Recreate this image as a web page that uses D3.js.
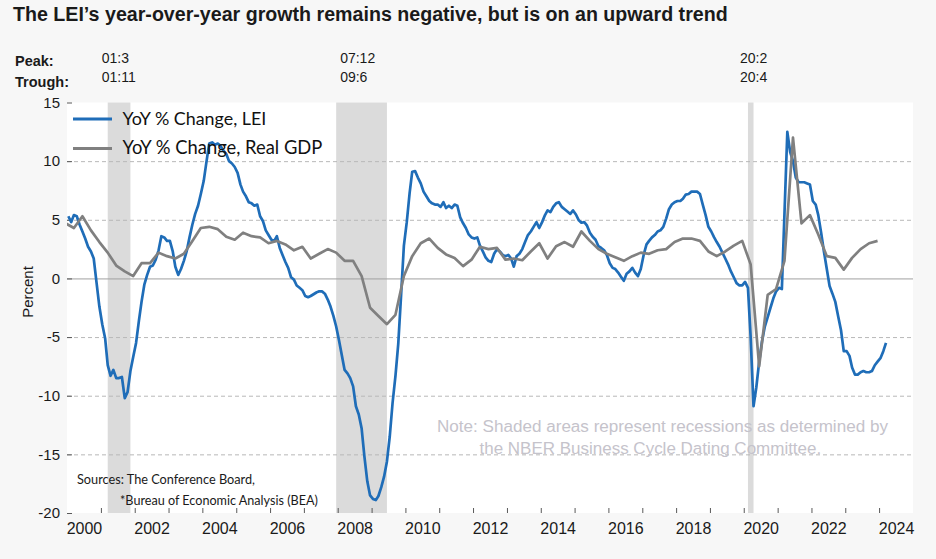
<!DOCTYPE html>
<html><head><meta charset="utf-8">
<script src="https://cdn.jsdelivr.net/npm/d3@7"></script>
<style>
html,body{margin:0;padding:0;background:#f7f7f7;}
svg{display:block;}
</style></head><body>
<svg id="chart" width="936" height="559"></svg>
<script>
// ---------------- DATA ----------------
const titleText = "The LEI\u2019s year-over-year growth remains negative, but is on an upward trend";
const seriesNames = ["YoY % Change, LEI", "YoY % Change, Real GDP"];

// LEI YoY % change, monthly, starting Jan 2000
const leiStartYear = 2000;
const leiValues = [
  5.3, 4.8, 5.4, 5.3, 4.6, 4.0, 3.4, 2.7, 2.3, 1.7, -0.4, -2.4,          // 2000
  -3.9, -5.1, -7.4, -8.3, -7.8, -8.5, -8.5, -8.4, -10.2, -9.7, -7.9, -6.7, // 2001
  -5.5, -3.6, -2.0, -0.5, 0.3, 1.0, 1.1, 1.6, 2.4, 3.6, 3.5, 3.2,        // 2002
  3.2, 2.3, 1.0, 0.3, 0.8, 1.5, 2.3, 3.5, 4.6, 5.5, 6.2, 7.2,            // 2003
  8.3, 10.0, 11.5, 11.6, 11.4, 11.5, 11.3, 10.9, 10.6, 10.0, 9.8, 9.5,   // 2004
  9.0, 8.0, 7.4, 7.0, 6.5, 6.4, 6.2, 6.3, 5.3, 4.9, 4.1, 3.7,            // 2005
  3.3, 3.2, 3.6, 2.6, 2.0, 1.4, 0.9, 0.1, -0.1, -0.6, -0.8, -1.0,        // 2006
  -1.5, -1.6, -1.5, -1.35, -1.2, -1.1, -1.1, -1.3, -1.8, -2.4, -3.2, -4.1, // 2007
  -5.3, -6.6, -7.8, -8.1, -8.5, -9.2, -10.9, -11.6, -12.8, -15.2, -17.3, -18.5, // 2008
  -18.8, -18.9, -18.55, -17.8, -16.9, -15.6, -13.5, -10.6, -8.3, -5.6, -1.4, 2.8, // 2009
  4.8, 7.3, 9.1, 9.15, 8.6, 8.1, 7.4, 7.0, 6.6, 6.4, 6.3, 6.3,           // 2010
  6.1, 6.5, 6.0, 6.2, 6.0, 6.3, 6.2, 5.2, 4.7, 4.3, 3.75, 3.5,           // 2011
  3.4, 3.5, 2.8, 2.3, 1.8, 1.5, 1.4, 2.1, 2.5, 2.3, 2.0, 1.9,            // 2012
  2.0, 1.7, 1.0, 1.9, 2.1, 2.5, 3.1, 3.7, 4.0, 4.4, 4.8, 4.3,            // 2013
  4.8, 5.4, 5.8, 5.65, 6.1, 6.4, 6.5, 6.1, 5.9, 5.7, 5.5, 5.8,           // 2014
  5.45, 4.95, 4.75, 4.8, 4.5, 3.9, 3.55, 3.3, 2.75, 2.6, 2.4, 2.0,       // 2015
  1.3, 0.9, 0.8, 0.5, 0.15, -0.2, 0.4, 0.6, 0.9, 0.5, 0.2, 0.8,          // 2016
  2.0, 2.9, 3.2, 3.5, 3.7, 4.0, 4.1, 4.4, 5.1, 5.9, 6.3, 6.5,            // 2017
  6.6, 6.6, 6.8, 7.15, 7.2, 7.4, 7.4, 7.4, 7.2, 6.3, 5.4, 4.4,           // 2018
  4.0, 3.5, 3.1, 2.7, 2.2, 1.7, 1.2, 0.6, 0.1, -0.4, -0.6, -0.6,         // 2019
  -0.3, -0.8, -5.0, -10.9, -9.3, -7.1, -5.4, -4.1, -3.3, -2.5, -1.7, -1.1, // 2020
  -0.8, -0.9, 5.5, 12.5, 10.8, 10.0, 8.6, 8.2, 8.2, 8.2, 8.1, 8.0,       // 2021
  6.6, 6.3, 5.4, 3.9, 2.3, 0.8, -0.65, -1.3, -2.0, -3.2, -4.4, -6.2,     // 2022
  -6.2, -6.6, -7.6, -8.2, -8.2, -8.0, -7.9, -8.0, -8.0, -7.9, -7.4, -7.1, // 2023
  -6.8, -6.2, -5.5                                                       // 2024
];

// Real GDP YoY % change, quarterly, starting 1999 Q4
const gdpStartYear = 1999, gdpStartQuarter = 4;
const gdpValues = [
  4.7,                     // 1999 Q4
  4.3, 5.3, 4.1, 3.1,      // 2000
  2.2, 1.1, 0.6, 0.2,      // 2001
  1.3, 1.3, 2.2, 1.9,      // 2002
  1.7, 2.1, 3.2, 4.3,      // 2003
  4.4, 4.2, 3.55, 3.3,     // 2004
  3.9, 3.6, 3.5, 3.0,      // 2005
  3.2, 2.9, 2.4, 2.7,      // 2006
  1.7, 2.1, 2.5, 2.2,      // 2007
  1.5, 1.5, 0.2, -2.5,     // 2008
  -3.2, -3.9, -3.1, 0.2,   // 2009
  1.9, 3.0, 3.4, 2.6,      // 2010
  2.05, 1.75, 1.05, 1.6,   // 2011
  2.7, 2.5, 2.6, 1.6,      // 2012
  1.7, 1.55, 2.3, 3.0,     // 2013
  1.7, 2.75, 3.1, 2.7,     // 2014
  4.0, 3.2, 2.5, 2.1,      // 2015
  1.8, 1.5, 1.9, 2.2,      // 2016
  2.1, 2.4, 2.5, 3.1,      // 2017
  3.4, 3.4, 3.2, 2.3,      // 2018
  1.9, 2.3, 2.8, 3.2,      // 2019
  1.2, -7.5, -1.4, -0.9,   // 2020
  1.5, 12.0, 4.7, 5.4,     // 2021
  3.75, 1.9, 1.75, 0.75,   // 2022
  1.75, 2.5, 3.0, 3.2      // 2023
];

// NBER recessions (peak / trough month)
const recessionPeaks   = ["2001-03", "2007-12", "2020-02"];
const recessionTroughs = ["2001-11", "2009-06", "2020-04"];
const peakLabels   = ["01:3", "07:12", "20:2"];
const troughLabels = ["01:11", "09:6", "20:4"];

const yTicks = [15, 10, 5, 0, -5, -10, -15, -20];
const xLabelYears = [2000, 2002, 2004, 2006, 2008, 2010, 2012, 2014, 2016, 2018, 2020, 2022, 2024];
const noteLines = ["Note: Shaded areas represent recessions as determined by",
                   "the NBER Business Cycle Dating Committee."];
const sourceLines = ["Sources: The Conference Board,", "*Bureau of Economic Analysis (BEA)"];

// ---------------- LAYOUT / STYLE ----------------
const W = 936, H = 559;
const P = {left: 67, right: 913, top: 102.5, bottom: 513};
const BLUE = "#1f6db8", GRAY = "#808080";
const ARIAL = "'Liberation Sans', Arial, sans-serif";
const CALIBRI = "Lato, 'Open Sans', sans-serif";

const svg = d3.select("#chart");
const x = d3.scaleTime().domain([new Date(2000, 0, 1), new Date(2025, 0, 1)]).range([P.left, P.right]);
const y = d3.scaleLinear().domain([-20, 15]).range([P.bottom, P.top]);
const midMonth = (yr, m) => new Date(yr, m, 15, 12);
const parseYM = s => { const [a, b] = s.split("-").map(Number); return midMonth(a, b - 1); };

function fit(sel, target) {
  const w = sel.node().getComputedTextLength();
  const fs = parseFloat(sel.attr("font-size"));
  if (w > 0) sel.attr("font-size", fs * target / w);
  return sel;
}

// background
svg.append("rect").attr("width", W).attr("height", H).attr("fill", "#f7f7f7");
svg.append("rect").attr("x", P.left).attr("y", P.top).attr("width", P.right - P.left)
  .attr("height", P.bottom - P.top).attr("fill", "#ffffff");

svg.append("defs").append("clipPath").attr("id", "clip").append("rect")
  .attr("x", P.left).attr("y", P.top - 2).attr("width", P.right - P.left).attr("height", P.bottom - P.top + 4);

// recessions
const recessions = recessionPeaks.map((p, i) => ({
  start: parseYM(p), end: parseYM(recessionTroughs[i]), peak: peakLabels[i], trough: troughLabels[i]
}));
svg.append("g").selectAll("rect").data(recessions).join("rect")
  .attr("x", d => x(d.start)).attr("width", d => x(d.end) - x(d.start))
  .attr("y", P.top).attr("height", P.bottom - P.top).attr("fill", "#dbdbdb");

// gridlines
svg.append("g").selectAll("line").data(yTicks.filter(v => v !== 15 && v !== -20)).join("line")
  .attr("x1", P.left).attr("x2", P.right)
  .attr("y1", d => y(d) + 0.5).attr("y2", d => y(d) + 0.5)
  .attr("stroke", d => d === 0 ? "#a0a0a0" : "#b8b8b8")
  .attr("stroke-width", 1)
  .attr("stroke-dasharray", d => d === 0 ? null : "4,3");

// y axis
const yAxis = svg.append("g").attr("transform", `translate(${P.left},0)`)
  .call(d3.axisLeft(y).tickValues(yTicks).tickSize(-5).tickPadding(7).tickFormat(d => String(d)));
yAxis.select(".domain").remove();
yAxis.selectAll(".tick line").attr("stroke", "#595959");
yAxis.selectAll("text").attr("font-family", ARIAL).attr("font-size", 15).attr("fill", "#1a1a1a");

// x axis ticks (every year)
const xTickAxis = svg.append("g").attr("transform", `translate(0,${P.bottom})`)
  .call(d3.axisBottom(x).tickValues(d3.range(2001, 2025).map(yr => new Date(yr, 0, 1)))
    .tickSize(-5).tickFormat(""));
xTickAxis.select(".domain").remove();
xTickAxis.selectAll(".tick line").attr("stroke", "#595959");

// x labels centred in the year
const xLabAxis = svg.append("g").attr("transform", `translate(0,${P.bottom})`)
  .call(d3.axisBottom(x).tickValues(xLabelYears.map(yr => new Date(yr, 6, 2)))
    .tickSize(0).tickPadding(10).tickFormat(d3.timeFormat("%Y")));
xLabAxis.select(".domain").remove();
xLabAxis.selectAll("text").attr("font-family", ARIAL).attr("font-size", 16).attr("fill", "#1a1a1a");

// series
const leiData = leiValues.map((v, i) => ({date: midMonth(leiStartYear, i), value: v}));
const gdpData = gdpValues.map((v, i) => ({date: midMonth(gdpStartYear, (gdpStartQuarter * 3 - 1) + i * 3), value: v}));
const line = d3.line().x(d => x(d.date)).y(d => y(d.value));
const lines = svg.append("g").attr("clip-path", "url(#clip)");
lines.append("path").datum(leiData).attr("d", line).attr("fill", "none")
  .attr("stroke", BLUE).attr("stroke-width", 2.7).attr("stroke-linejoin", "round");
lines.append("path").datum(gdpData).attr("d", line).attr("fill", "none")
  .attr("stroke", GRAY).attr("stroke-width", 2.7).attr("stroke-linejoin", "round");

// legend
const legend = svg.append("g");
[BLUE, GRAY].forEach((c, i) => {
  const ly = 119 + i * 29.5;
  legend.append("line").attr("x1", 73).attr("x2", 112).attr("y1", ly).attr("y2", ly)
    .attr("stroke", c).attr("stroke-width", 3);
  const t = legend.append("text").attr("x", 122.5).attr("y", ly + 5.5)
    .attr("font-family", CALIBRI).attr("font-size", 17).attr("fill", "#111").text(seriesNames[i]);
  fit(t, i === 0 ? 144 : 200);
});

// title
fit(svg.append("text").attr("x", 13).attr("y", 21).attr("font-family", ARIAL)
  .attr("font-weight", "bold").attr("font-size", 17).attr("fill", "#1a1a1a").text(titleText), 715);

// Peak / Trough header
svg.append("text").attr("x", 15).attr("y", 66).attr("font-family", ARIAL).attr("font-weight", "bold")
  .attr("font-size", 14.5).attr("fill", "#1a1a1a").text("Peak:");
svg.append("text").attr("x", 15).attr("y", 87).attr("font-family", ARIAL).attr("font-weight", "bold")
  .attr("font-size", 14.5).attr("fill", "#1a1a1a").text("Trough:");
const labelOffsets = [-6, 4, -8];
const hdr = svg.append("g");
recessions.forEach((d, i) => {
  const lx = x(d.start) + labelOffsets[i];
  hdr.append("text").attr("x", lx).attr("y", 62.5).attr("font-family", ARIAL).attr("font-size", 14)
    .attr("fill", "#1a1a1a").text(d.peak);
  hdr.append("text").attr("x", lx).attr("y", 81.5).attr("font-family", ARIAL).attr("font-size", 14)
    .attr("fill", "#1a1a1a").text(d.trough);
});

// y title
svg.append("text").attr("transform", "translate(33,292) rotate(-90)").attr("text-anchor", "middle")
  .attr("font-family", ARIAL).attr("font-size", 15).attr("fill", "#1a1a1a").text("Percent");

// note
const noteX = [437, 479.5], noteY = [431.5, 454], noteW = [451, 342];
noteLines.forEach((s, i) => {
  fit(svg.append("text").attr("x", noteX[i]).attr("y", noteY[i]).attr("font-family", ARIAL)
    .attr("font-size", 16).attr("fill", "#c5c3cb").text(s), noteW[i]);
});

// sources
const srcX = [77, 120], srcY = [484, 504.5], srcW = [178, 198];
sourceLines.forEach((s, i) => {
  fit(svg.append("text").attr("x", srcX[i]).attr("y", srcY[i]).attr("font-family", CALIBRI)
    .attr("font-size", 13).attr("fill", "#1a1a1a").text(s), srcW[i]);
});
</script>
</body></html>
